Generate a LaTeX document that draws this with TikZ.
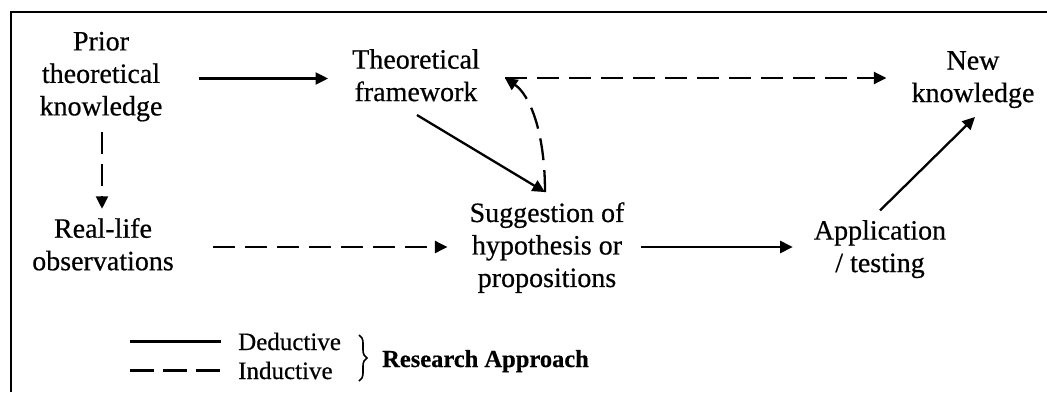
\documentclass[tikz,border=0pt]{standalone}
\usepackage{fontspec}
\setmainfont{Liberation Serif}[FakeBold=0.5]
\usetikzlibrary{arrows.meta,calc,decorations.pathreplacing}

\begin{document}
\begin{tikzpicture}[x=1pt,y=-1pt,
  concept/.style={align=center,inner sep=0pt,
    font=\fontsize{28}{32.5}\selectfont,
    execute at begin node=\strut,execute at end node=\strut},
  arrowtip/.style={-{Triangle[length=12.5pt,width=12pt]}},
  ded/.style={line width=2.3pt,arrowtip},
  ind/.style={line width=2.3pt,dash pattern=on 22pt off 10pt,arrowtip},
  legendtext/.style={inner sep=0pt,anchor=base west,font=\fontsize{25}{30}\selectfont},
]
\useasboundingbox (0,0) rectangle (1047,392);

% open frame: top and left rules
\draw[line width=2pt] (10.5,392) -- (10.5,11.5) -- (1047,11.5);

% concepts
\node[concept] (prior) at (101,78.5) {Prior\\theoretical\\knowledge};
\node[concept] (theo) at (416,80) {Theoretical\\framework};
\node[concept] (new) at (973,81.5) {New\\knowledge};
\node[concept] (real) at (103,249) {Real-life\\observations};
\node[concept] (sugg) at (547,249.5) {Suggestion of\\hypothesis or\\propositions};
\node[concept] (app) at (880,251) {Application\\/ testing};

% junction points
\coordinate (meet) at ($(sugg.north)+(-2,-10)$);
\coordinate (fork) at ($(theo.east)+(25,-2)$);

% connectors
\draw[ded] ($(prior.east)+(36,0)$) -- ($(theo.west |- prior.east)+(-24,0)$);
\draw[ind] (fork) -- ($(new.west |- fork)+(-25,0)$);
\draw[ind] ($(prior.south)+(1,7)$) -- ($(prior.south |- real.north)+(1,-9)$);
\draw[ded] ($(theo.south)+(1,4)$) -- (meet);
\draw[ind] (meet) .. controls +(0,-60) and +(25,17) .. (fork);
\draw[ind] ($(real.east)+(39,-2)$) -- ($(sugg.west |- real.east)+(-22,-2)$);
\draw[ded] ($(sugg.east)+(16,-2.5)$) -- ($(app.west |- sugg.east)+(-21,-2.5)$);
\draw[ded] ($(app.north)+(0,-9.5)$) -- ($(new.south)+(2,5)$);

% legend
\node[legendtext] (dedtext) at (238,350) {Deductive};
\node[legendtext] (indtext) at (238,379) {Inductive};
\node[legendtext,font=\fontsize{24.5}{30}\selectfont\bfseries] (approach) at (382,367) {Research Approach};
\draw[line width=2.3pt] ($(dedtext.west)+(-108,0)$) -- ($(dedtext.west)+(-17,0)$);
\draw[line width=2.3pt,dash pattern=on 24pt off 9pt] ($(indtext.west)+(-108,0)$) -- ($(indtext.west)+(-17,0)$);
\draw[line width=1.6pt,decorate,decoration={brace,amplitude=8pt}] (359,335) -- (359,381);
\end{tikzpicture}
\end{document}
